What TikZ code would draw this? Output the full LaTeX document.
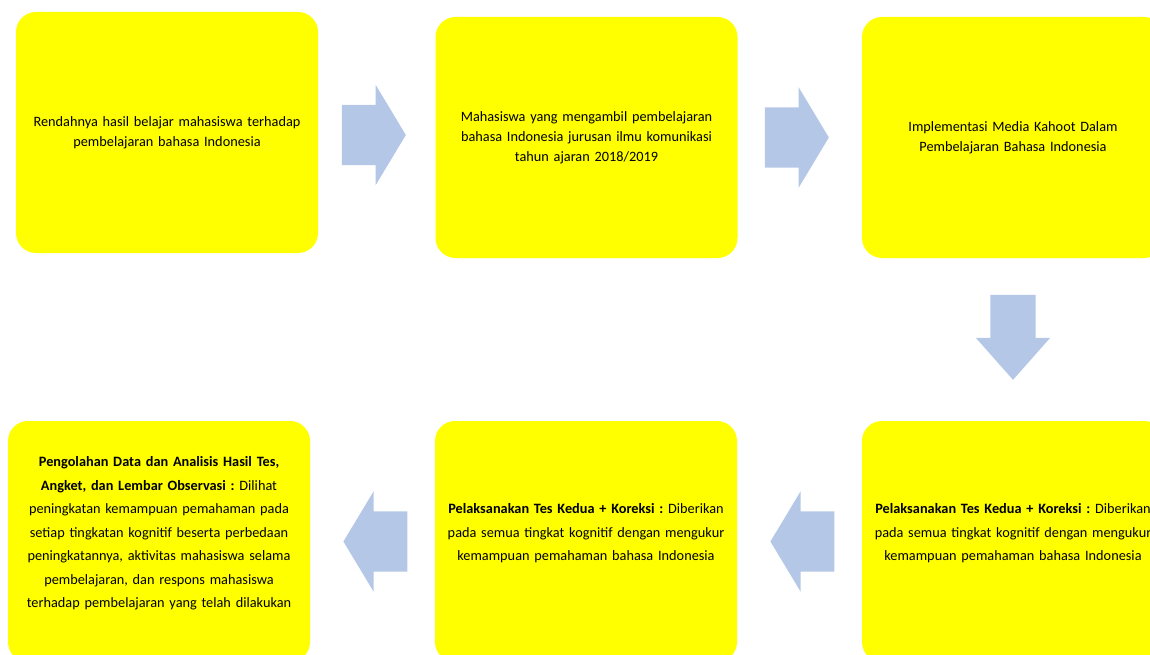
\documentclass[tikz,border=0pt]{standalone}
\usepackage{fontspec}
\setmainfont{Carlito}
\usetikzlibrary{shapes.arrows}

\definecolor{boxyellow}{RGB}{255,255,0}
\definecolor{arrowblue}{RGB}{180,199,231}
\newcommand{\lowpad}{\par\vspace{16pt}\nointerlineskip\hbox{}}
\frenchspacing

\begin{document}
\begin{tikzpicture}
		[x=1pt, y=-1pt, node distance={423pt},
		main/.style = {fill=boxyellow, rounded corners=20pt, inner sep=0pt,
			minimum width=302pt, minimum height=241pt, text width=285pt, align=center,
			font=\fontsize{14.3}{20}\selectfont},
		low/.style = {main, font=\fontsize{14.3}{23.5}\selectfont,
			execute at end node=\lowpad},
		harrow/.style = {single arrow, fill=arrowblue, inner xsep=0pt, inner ysep=30pt,
			minimum height=64pt, minimum width=100pt,
			single arrow head extend=20pt, single arrow tip angle=118},
		varrow/.style = {single arrow, fill=arrowblue, inner sep=22.5pt, shape border rotate=270,
			minimum height=85pt, minimum width=74pt,
			single arrow head extend=14.5pt, single arrow tip angle=83}]
        \useasboundingbox (0,0) rectangle (1150,655);
        \clip (0,0) rectangle (1150,655);

        \node[main] (1) at (167,132.5) {Rendahnya hasil belajar mahasiswa terhadap\\ pembelajaran bahasa Indonesia};
        \node[main] (2) [right of = 1, node distance=419.5pt, yshift=-5pt] {Mahasiswa yang mengambil pembelajaran\\ bahasa Indonesia jurusan ilmu komunikasi\\ tahun ajaran 2018/2019};
        \node[main] (3) [right of = 2, node distance=426.5pt] {Implementasi Media Kahoot Dalam\\ Pembelajaran Bahasa Indonesia};
        \node[low] (6) [below of = 3, node distance=404pt] {\textbf{Pelaksanakan Tes Kedua + Koreksi :} Diberikan\\ pada semua tingkat kognitif dengan mengukur\\ kemampuan pemahaman bahasa Indonesia};
        \node[low] (5) [left of = 6, node distance=427pt] {\textbf{Pelaksanakan Tes Kedua + Koreksi :} Diberikan\\ pada semua tingkat kognitif dengan mengukur\\ kemampuan pemahaman bahasa Indonesia};
        \node[low] (4) [left of = 5, node distance=427pt] {\textbf{Pengolahan Data dan Analisis Hasil Tes,}\\ \textbf{Angket, dan Lembar Observasi :} Dilihat\\ peningkatan kemampuan pemahaman pada\\ setiap tingkatan kognitif beserta perbedaan\\ peningkatannya, aktivitas mahasiswa selama\\ pembelajaran, dan respons mahasiswa\\ terhadap pembelajaran yang telah dilakukan};

        \path (1) -- node[harrow, xshift=-12pt] (a1) {} (2);
        \path (2) -- node[harrow, xshift=-12pt] (a2) {} (3);
        \path (3) -- node[varrow, yshift=15pt] (a3) {} (6);
        \path (6) -- node[harrow, shape border rotate=180, xshift=12pt] (a4) {} (5);
        \path (5) -- node[harrow, shape border rotate=180, xshift=12pt] (a5) {} (4);
	\end{tikzpicture}
\end{document}
